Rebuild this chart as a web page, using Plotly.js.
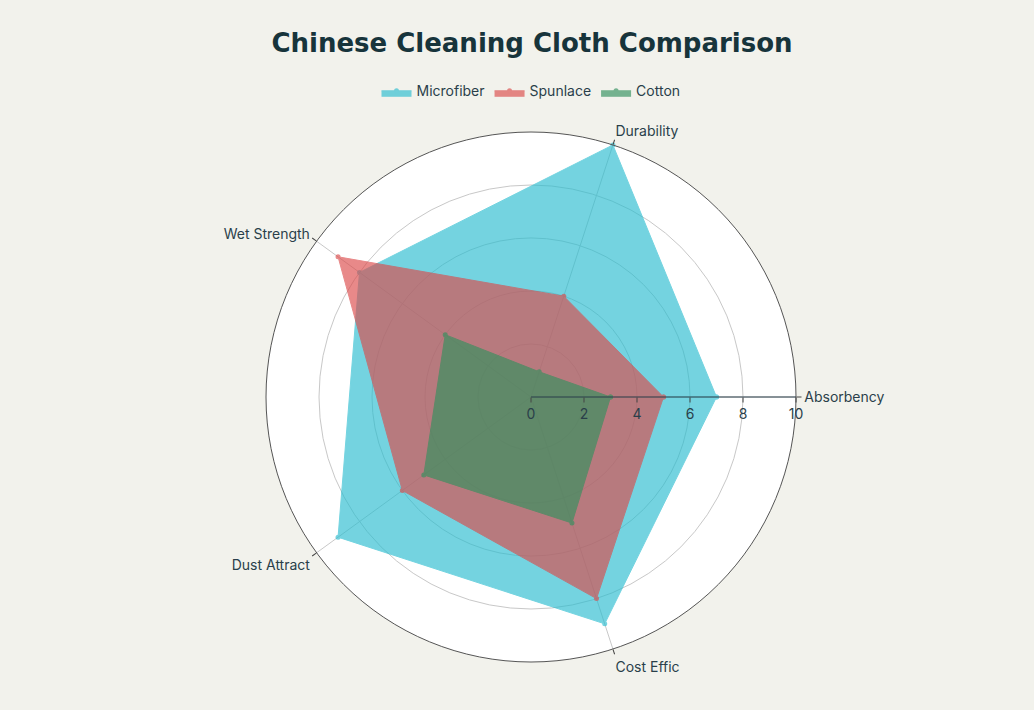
<!DOCTYPE html>
<html>
<head>
<meta charset="utf-8">
<script src="https://cdn.plot.ly/plotly-3.0.1.min.js"></script>
<style>html,body{margin:0;padding:0;background:#F2F2EC;}</style>
</head>
<body>
<div id="chart" style="width:1034px;height:710px;"></div>
<script>
const categories = ["Absorbency", "Durability", "Wet Strength", "Dust Attract", "Cost Effic"];
const microfiber = [7, 10, 8, 9, 9];
const spunlace = [5, 4, 9, 6, 8];
const cotton = [3, 1, 4, 5, 5];
const seriesNames = ["Microfiber", "Spunlace", "Cotton"];
const radialTicks = [0, 2, 4, 6, 8, 10];

const colors = ["#2ABDD0", "#DC4B4B", "#32915E"];
const data = [microfiber, spunlace, cotton].map((vals, i) => ({
  type: "scatterpolar",
  name: seriesNames[i],
  r: vals.concat([vals[0]]),
  theta: categories.concat([categories[0]]),
  fill: "toself",
  fillcolor: colors[i],
  opacity: 0.65,
  mode: "lines+markers",
  line: {color: colors[i], width: 1},
  marker: {color: colors[i], size: 5}
}));

const layout = {
  width: 1034, height: 710,
  paper_bgcolor: "#F2F2EC",
  margin: {l: 108, r: 80, t: 132, b: 48},
  title: {text: "<b>Chinese Cleaning Cloth Comparison</b>", x: 0.5145, xanchor: "center", y: 0.9394, yanchor: "middle",
          font: {family: "Verdana, 'DejaVu Sans', sans-serif", size: 26, color: "#17343B"}},
  font: {family: "Inter, sans-serif", color: "#2A3F4A", size: 14},
  showlegend: true,
  legend: {orientation: "h", x: 0.5, xanchor: "center", y: 1.077, yanchor: "middle",
           font: {size: 14, color: "#2A3F4A"}, bgcolor: "rgba(0,0,0,0)"},
  polar: {
    bgcolor: "#FFFFFF",
    radialaxis: {range: [0, 10], tickvals: radialTicks, ticks: "outside", showline: true,
                 linecolor: "#2A3F4A", gridcolor: "#C8C8C8", tickfont: {size: 14, color: "#2A3F4A"}, angle: 0},
    angularaxis: {direction: "counterclockwise", rotation: 0, ticks: "outside",
                  linecolor: "#555555", gridcolor: "#C8C8C8", tickfont: {size: 14, color: "#2A3F4A"}}
  }
};

Plotly.newPlot("chart", data, layout, {displayModeBar: false});
</script>
</body>
</html>
